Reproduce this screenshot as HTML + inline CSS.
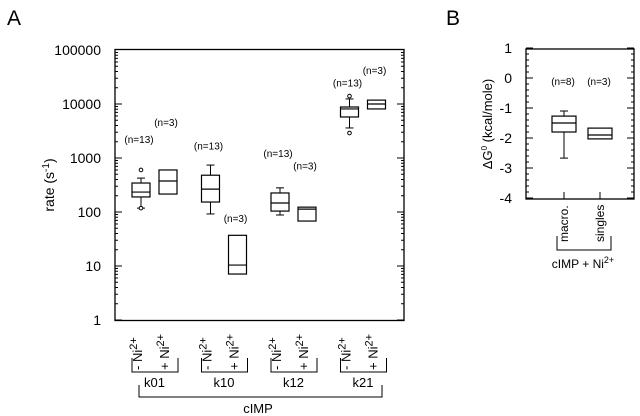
<!DOCTYPE html>
<html><head><meta charset="utf-8"><style>
html,body{margin:0;padding:0;background:#fff;}
svg{display:block;font-family:"Liberation Sans",sans-serif;}
</style></head><body>
<svg id="fig" width="640" height="416" viewBox="0 0 640 416" xmlns="http://www.w3.org/2000/svg">
<text x="7" y="25" font-size="21">A</text>
<text x="446" y="25" font-size="21">B</text>
<rect x="115" y="49.5" width="289" height="271" fill="none" stroke="#000" stroke-width="1.3"/>
<text transform="translate(54,185) rotate(-90)" text-anchor="middle" font-size="14">rate (s<tspan font-size="10" dy="-5">-1</tspan><tspan dy="5">)</tspan></text>
<g id="ga"></g>
<rect x="526" y="49" width="108" height="150" fill="none" stroke="#000" stroke-width="1.3"/>
<text transform="translate(492,124) rotate(-90)" text-anchor="middle" font-size="13">ΔG<tspan font-size="8" dy="-5">0</tspan><tspan dy="5"> (kcal/mole)</tspan></text>
<g id="gb"></g>
<g id="gx"></g>
<path d="M139 385 V397 H382 V385" fill="none" stroke="#000"/>
<text x="258" y="413" text-anchor="middle" font-size="13">cIMP</text>
<text transform="translate(568,242) rotate(-90)" font-size="12">macro.</text>
<text transform="translate(604,242) rotate(-90)" font-size="12">singles</text>
<path d="M557 236 V250 H611 V236" fill="none" stroke="#000"/>
<text x="583" y="268" text-anchor="middle" font-size="12">cIMP + Ni<tspan font-size="9" dy="-5">2+</tspan></text>
</svg>
<script>
const catsA = ["k01-","k01+","k10-","k10+","k12-","k12+","k21-","k21+"];
const groupsA = ["k01","k10","k12","k21"];
const q1A = [190,215,153,7.1,104,68,5750,8100];
const medA = [234,375,265,10.4,147,113,8100,10000];
const q3A = [344,600,480,37,225,123,8800,11800];
const wLoA = [118,null,92,null,88,null,3600,null];
const wHiA = [425,null,740,null,280,null,12400,null];
const outA = [[600,118],[],[],[],[],[],[14000,2900],[]];
const nA = ["(n=13)","(n=3)","(n=13)","(n=3)","(n=13)","(n=3)","(n=13)","(n=3)"];
const nPosA = [1900,3900,1450,65,1050,610,21000,36000];
const ticksA = [1,10,100,1000,10000,100000];
const catsB = ["macro.","singles"];
const q1B = [-1.8,-2.03];
const medB = [-1.5,-1.9];
const q3B = [-1.27,-1.67];
const wLoB = [-2.67,null];
const wHiB = [-1.1,null];
const nB = ["(n=8)","(n=3)"];
const ticksB = [1,0,-1,-2,-3,-4];

const NS="http://www.w3.org/2000/svg";
function mk(parent,tag,attrs,txt){const e=document.createElementNS(NS,tag);for(const k in attrs)e.setAttribute(k,attrs[k]);if(txt!=null)e.textContent=txt;parent.appendChild(e);return e;}
const yA=v=>320-54*Math.log10(v);
function xa(i){const g=Math.floor(i/2),s=i%2;return 141+g*69.5+s*27;}
const yB=v=>78-30*v;
const xb=i=>564+36*i;
const ga=document.getElementById('ga'),gb=document.getElementById('gb'),gx=document.getElementById('gx');
ticksA.forEach(t=>{
  const y=yA(t);
  let e=mk(ga,'text',{x:101,y:y+5,'text-anchor':'end','font-size':14},String(t));
  
  
  if(t<100000){for(let m=1;m<=9;m++){const yy=yA(t*m);const len=m===1?7:3;
    mk(ga,'line',{x1:115,x2:115+len,y1:yy,y2:yy,stroke:'#000'});
    mk(ga,'line',{x1:404,x2:404-len,y1:yy,y2:yy,stroke:'#000'});}}
});
catsA.forEach((c,i)=>{
  const cx=xa(i),hw=9;
  const g=mk(ga,'g',{});
  
  
  if(wHiA[i]!=null){mk(g,'line',{x1:cx,x2:cx,y1:yA(q3A[i]),y2:yA(wHiA[i]),stroke:'#000'});mk(g,'line',{x1:cx-4,x2:cx+4,y1:yA(wHiA[i]),y2:yA(wHiA[i]),stroke:'#000'});}
  if(wLoA[i]!=null){mk(g,'line',{x1:cx,x2:cx,y1:yA(q1A[i]),y2:yA(wLoA[i]),stroke:'#000'});mk(g,'line',{x1:cx-4,x2:cx+4,y1:yA(wLoA[i]),y2:yA(wLoA[i]),stroke:'#000'});}
  mk(g,'rect',{x:cx-hw,y:yA(q3A[i]),width:2*hw,height:yA(q1A[i])-yA(q3A[i]),fill:'#fff',stroke:'#000','stroke-width':1.2});
  mk(g,'line',{x1:cx-hw,x2:cx+hw,y1:yA(medA[i]),y2:yA(medA[i]),stroke:'#000','stroke-width':1.2});
  outA[i].forEach(o=>mk(g,'circle',{cx:cx,cy:yA(o),r:1.8,fill:'#fff',stroke:'#000'}));
  const n=mk(ga,'text',{x:cx-2,y:yA(nPosA[i]),'text-anchor':'middle','font-size':10},nA[i]);
  
  
});
groupsA.forEach((gname,gi)=>{
  const x0=xa(gi*2),x1=xa(gi*2+1);
  [x0,x1].forEach((x,s)=>{
    const t=mk(gx,'text',{transform:`translate(${x+1},370) rotate(-90)`,'font-size':13},(s?'+ ':'- ')+'Ni');
    
    
    mk(t,'tspan',{'font-size':11,dy:-5},'2+');
  });
  const b=mk(gx,'path',{d:`M${x0-9} 358 V372 H${x1+10} V358`,fill:'none',stroke:'#000'});
  
  
  const l=mk(gx,'text',{x:(x0+x1)/2,y:387,'text-anchor':'middle','font-size':13},gname);
  
  
});
ticksB.forEach(t=>{
  const y=yB(t);
  const e=mk(gb,'text',{x:512,y:y+5,'text-anchor':'end','font-size':14},String(t));
  
  
  mk(gb,'line',{x1:526,x2:533,y1:y,y2:y,stroke:'#000'});
  mk(gb,'line',{x1:634,x2:627,y1:y,y2:y,stroke:'#000'});
  if(t>-4){for(let m=1;m<5;m++){const yy=yB(t-m*0.2);mk(gb,'line',{x1:526,x2:529,y1:yy,y2:yy,stroke:'#000'});mk(gb,'line',{x1:634,x2:631,y1:yy,y2:yy,stroke:'#000'});}}
});
catsB.forEach((c,i)=>{
  const cx=xb(i),hw=12;
  mk(gb,'line',{x1:cx,x2:cx,y1:199,y2:192,stroke:'#000'});
  const g=mk(gb,'g',{});
  
  
  if(wHiB[i]!=null){mk(g,'line',{x1:cx,x2:cx,y1:yB(q3B[i]),y2:yB(wHiB[i]),stroke:'#000'});mk(g,'line',{x1:cx-4,x2:cx+4,y1:yB(wHiB[i]),y2:yB(wHiB[i]),stroke:'#000'});}
  if(wLoB[i]!=null){mk(g,'line',{x1:cx,x2:cx,y1:yB(q1B[i]),y2:yB(wLoB[i]),stroke:'#000'});mk(g,'line',{x1:cx-4,x2:cx+4,y1:yB(wLoB[i]),y2:yB(wLoB[i]),stroke:'#000'});}
  mk(g,'rect',{x:cx-hw,y:yB(q3B[i]),width:2*hw,height:yB(q1B[i])-yB(q3B[i]),fill:'#fff',stroke:'#000','stroke-width':1.2});
  mk(g,'line',{x1:cx-hw,x2:cx+hw,y1:yB(medB[i]),y2:yB(medB[i]),stroke:'#000','stroke-width':1.2});
  const n=mk(gb,'text',{x:cx-1,y:85,'text-anchor':'middle','font-size':10},nB[i]);
  
  
});
</script>
</body></html>
